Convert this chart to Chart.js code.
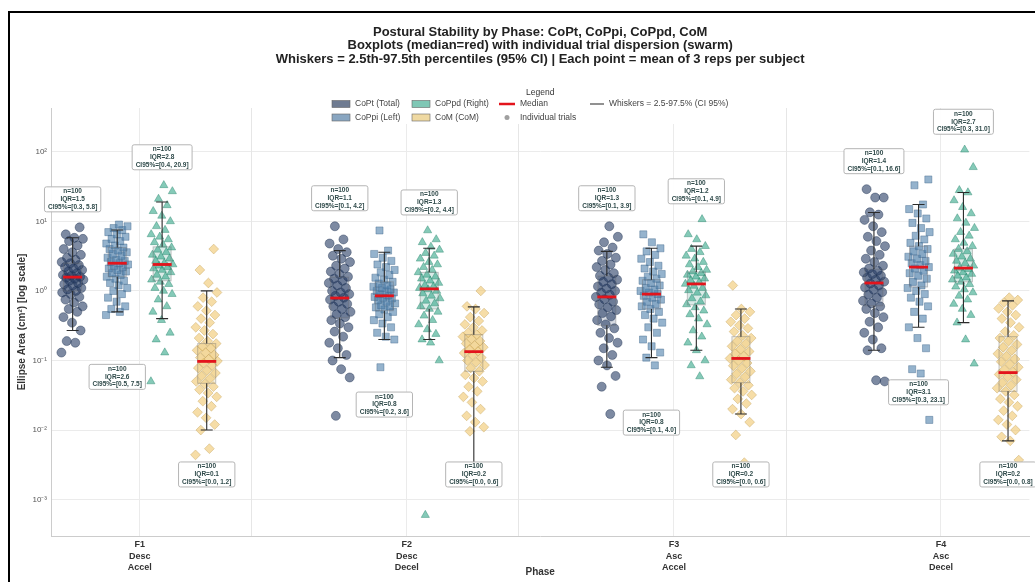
<!DOCTYPE html>
<html>
<head>
<meta charset="utf-8">
<title>Postural Stability by Phase</title>
<script src="https://cdn.jsdelivr.net/npm/chart.js@4.4.1/dist/chart.umd.min.js"></script>
<style>
  html, body { margin: 0; padding: 0; background: #fff; }
  #chart { display: block; }
</style>
</head>
<body>
<canvas id="chart" width="1035" height="582"></canvas>
<script>
// phases (x categories), one multi-line tick label each
const phases = [['F1', 'Desc', 'Accel'], ['F2', 'Desc', 'Decel'], ['F3', 'Asc', 'Accel'], ['F4', 'Asc', 'Decel']];
const seriesNames = ['CoPt (Total)', 'CoPpi (Left)', 'CoPpd (Right)', 'CoM (CoM)'];
const nTrials = 100;

const yTicks = [1e-3, 1e-2, 1e-1, 1, 10, 100];
const yTickLabels = ['10\u207B\u00B3', '10\u207B\u00B2', '10\u207B\u00B9', '10\u2070', '10\u00B9', '10\u00B2'];

// individual trial means (cm²), one list per phase F1..F4
const coptTrials = [
    [0.13, 0.18, 0.19, 0.27, 0.35, 0.42, 0.5, 0.55, 0.6, 0.68, 0.75, 0.82, 0.9, 0.95, 1.0, 1.05, 1.1, 1.2, 1.25, 1.3, 1.4, 1.45, 1.5, 1.55, 1.6, 1.65, 1.7, 1.8, 1.9, 2.0, 2.1, 2.2, 2.35, 2.5, 2.6, 2.8, 3.0, 3.3, 3.6, 4.0, 4.5, 5.2, 5.6, 5.8, 6.5, 8.2],
    [0.016, 0.057, 0.075, 0.1, 0.12, 0.15, 0.18, 0.22, 0.26, 0.3, 0.34, 0.38, 0.42, 0.46, 0.5, 0.55, 0.6, 0.65, 0.7, 0.75, 0.8, 0.85, 0.9, 0.95, 1.0, 1.1, 1.2, 1.3, 1.4, 1.5, 1.6, 1.75, 1.9, 2.1, 2.3, 2.6, 2.9, 3.2, 3.6, 4.0, 4.8, 5.5, 8.5],
    [0.017, 0.042, 0.06, 0.085, 0.1, 0.12, 0.15, 0.18, 0.21, 0.25, 0.29, 0.33, 0.38, 0.43, 0.48, 0.53, 0.58, 0.64, 0.7, 0.76, 0.82, 0.88, 0.94, 1.0, 1.08, 1.16, 1.25, 1.35, 1.45, 1.55, 1.65, 1.8, 2.0, 2.2, 2.4, 2.7, 3.0, 3.4, 3.8, 4.2, 5.0, 6.0, 8.5],
    [0.05, 0.052, 0.14, 0.15, 0.2, 0.25, 0.3, 0.36, 0.42, 0.48, 0.55, 0.6, 0.66, 0.72, 0.8, 0.88, 0.96, 1.04, 1.12, 1.2, 1.28, 1.36, 1.45, 1.55, 1.65, 1.75, 1.85, 1.95, 2.1, 2.3, 2.6, 2.9, 3.3, 3.8, 4.4, 5.2, 6.0, 7.0, 8.5, 10.5, 12.5, 13.5, 22, 22, 29]
];
const coppiTrials = [
    [0.45, 0.5, 0.55, 0.6, 0.7, 0.8, 0.9, 1.0, 1.1, 1.2, 1.3, 1.4, 1.5, 1.6, 1.7, 1.8, 1.9, 2.0, 2.1, 2.2, 2.3, 2.4, 2.5, 2.6, 2.7, 2.8, 3.0, 3.2, 3.4, 3.6, 3.8, 4.0, 4.2, 4.5, 4.8, 5.2, 5.6, 6.0, 6.5, 7.0, 7.5, 8.0, 8.5, 9.0],
    [0.08, 0.2, 0.22, 0.25, 0.3, 0.34, 0.38, 0.42, 0.46, 0.5, 0.54, 0.58, 0.6, 0.62, 0.66, 0.7, 0.74, 0.78, 0.8, 0.82, 0.86, 0.9, 0.95, 1.0, 1.0, 1.05, 1.1, 1.15, 1.2, 1.28, 1.35, 1.45, 1.55, 1.7, 1.85, 2.0, 2.2, 2.4, 2.7, 3.0, 3.4, 3.8, 7.4],
    [0.085, 0.11, 0.13, 0.16, 0.2, 0.25, 0.3, 0.35, 0.4, 0.45, 0.5, 0.55, 0.6, 0.65, 0.7, 0.75, 0.8, 0.85, 0.9, 0.95, 1.0, 1.05, 1.1, 1.2, 1.3, 1.4, 1.5, 1.6, 1.75, 1.9, 2.1, 2.3, 2.6, 2.9, 3.3, 3.7, 4.1, 5.0, 6.5],
    [0.014, 0.065, 0.075, 0.15, 0.21, 0.3, 0.4, 0.5, 0.6, 0.7, 0.8, 0.9, 1.0, 1.1, 1.2, 1.35, 1.5, 1.65, 1.8, 1.95, 2.1, 2.2, 2.35, 2.5, 2.7, 2.9, 3.1, 3.4, 3.7, 4.0, 4.4, 4.9, 5.5, 6.2, 7.0, 8.0, 9.5, 11, 13, 15, 17.5, 33, 40]
];
const coppdTrials = [
    [0.05, 0.13, 0.2, 0.25, 0.38, 0.5, 0.6, 0.75, 0.9, 1.0, 1.1, 1.25, 1.35, 1.45, 1.6, 1.7, 1.85, 2.0, 2.1, 2.2, 2.3, 2.4, 2.5, 2.7, 2.9, 3.1, 3.3, 3.6, 3.9, 4.2, 4.6, 5.0, 5.5, 6.0, 6.5, 7.5, 8.5, 10, 12, 14, 17, 21, 27, 33],
    [0.0006, 0.1, 0.18, 0.2, 0.24, 0.28, 0.33, 0.38, 0.44, 0.5, 0.55, 0.6, 0.66, 0.72, 0.78, 0.85, 0.92, 1.0, 1.05, 1.1, 1.15, 1.2, 1.3, 1.4, 1.5, 1.6, 1.7, 1.85, 2.0, 2.2, 2.4, 2.6, 2.9, 3.2, 3.5, 3.9, 4.3, 5.0, 5.5, 7.4],
    [0.059, 0.085, 0.1, 0.14, 0.18, 0.22, 0.27, 0.33, 0.4, 0.46, 0.52, 0.58, 0.64, 0.7, 0.78, 0.86, 0.94, 1.02, 1.1, 1.18, 1.26, 1.34, 1.42, 1.5, 1.6, 1.7, 1.8, 1.9, 2.0, 2.2, 2.4, 2.6, 2.9, 3.2, 3.6, 4.0, 4.4, 5.5, 6.5, 10.7],
    [0.09, 0.2, 0.35, 0.45, 0.55, 0.65, 0.75, 0.85, 0.95, 1.05, 1.15, 1.25, 1.35, 1.45, 1.55, 1.65, 1.75, 1.85, 1.95, 2.05, 2.15, 2.3, 2.5, 2.7, 2.9, 3.1, 3.4, 3.7, 4.0, 4.4, 4.9, 5.5, 6.2, 7.0, 8.0, 9.5, 11, 13, 16, 20, 26, 28, 60, 107]
];
const comTrials = [
    [0.0044, 0.0054, 0.01, 0.012, 0.015, 0.018, 0.022, 0.026, 0.03, 0.034, 0.038, 0.042, 0.046, 0.05, 0.055, 0.06, 0.066, 0.072, 0.078, 0.085, 0.092, 0.098, 0.105, 0.11, 0.12, 0.13, 0.14, 0.15, 0.16, 0.175, 0.19, 0.21, 0.24, 0.27, 0.3, 0.35, 0.4, 0.45, 0.52, 0.6, 0.7, 0.8, 0.95, 1.3, 2.0, 4.0],
    [0.0096, 0.011, 0.013, 0.016, 0.02, 0.025, 0.03, 0.036, 0.042, 0.05, 0.056, 0.062, 0.07, 0.078, 0.086, 0.094, 0.1, 0.11, 0.12, 0.128, 0.136, 0.145, 0.155, 0.165, 0.175, 0.19, 0.205, 0.22, 0.235, 0.25, 0.27, 0.3, 0.33, 0.37, 0.42, 0.48, 0.55, 0.6, 1.0],
    [0.0034, 0.0085, 0.013, 0.017, 0.02, 0.024, 0.028, 0.032, 0.036, 0.04, 0.044, 0.048, 0.053, 0.058, 0.064, 0.07, 0.077, 0.084, 0.092, 0.1, 0.107, 0.115, 0.125, 0.135, 0.145, 0.16, 0.175, 0.19, 0.21, 0.23, 0.26, 0.29, 0.32, 0.36, 0.4, 0.45, 0.5, 0.55, 1.2],
    [0.0037, 0.007, 0.008, 0.01, 0.012, 0.014, 0.016, 0.019, 0.022, 0.025, 0.028, 0.032, 0.036, 0.04, 0.044, 0.048, 0.053, 0.058, 0.063, 0.068, 0.074, 0.08, 0.088, 0.096, 0.105, 0.115, 0.125, 0.14, 0.155, 0.17, 0.19, 0.21, 0.23, 0.26, 0.3, 0.35, 0.4, 0.45, 0.5, 0.56, 0.62, 0.68, 0.74, 0.8]
];

// box stats per phase: [p2.5, q1, median, q3, p97.5]
const coptBox = [[0.27, 1.0, 1.58, 2.5, 5.8], [0.11, 0.41, 0.79, 1.58, 3.8], [0.08, 0.32, 0.82, 1.64, 3.7], [0.14, 0.61, 1.3, 2.06, 13.4]];
const coppiBox = [[0.5, 1.6, 2.5, 4.2, 7.5], [0.2, 0.52, 0.85, 1.35, 3.6], [0.11, 0.55, 0.9, 1.45, 4.1], [0.3, 1.14, 2.2, 4.4, 17.5]];
const coppdBox = [[0.4, 1.4, 2.4, 4.3, 19], [0.2, 0.55, 1.07, 1.85, 4.1], [0.14, 0.63, 1.26, 1.87, 4.4], [0.35, 1.35, 2.13, 4.0, 26]];
const comBox = [[0.01, 0.047, 0.097, 0.175, 1.0], [0.003, 0.07, 0.134, 0.235, 0.59], [0.017, 0.048, 0.107, 0.22, 0.55], [0.007, 0.036, 0.067, 0.22, 0.72]];

// annotation values
const coptIqr = [1.5, 1.1, 1.3, 1.4];
const coppiIqr = [2.6, 0.8, 0.8, 3.1];
const coppdIqr = [2.8, 1.3, 1.2, 2.7];
const comIqr = [0.1, 0.2, 0.2, 0.2];
const coptCi = ['[0.3, 5.8]', '[0.1, 4.2]', '[0.1, 3.9]', '[0.1, 16.6]'];
const coppiCi = ['[0.5, 7.5]', '[0.2, 3.6]', '[0.1, 4.0]', '[0.3, 23.1]'];
const coppdCi = ['[0.4, 20.9]', '[0.2, 4.4]', '[0.1, 4.9]', '[0.3, 31.0]'];
const comCi = ['[0.0, 1.2]', '[0.0, 0.6]', '[0.0, 0.6]', '[0.0, 0.8]'];

// styling / layout
const series = [
    { trials: coptTrials, box: coptBox, iqr: coptIqr, ci: coptCi, offset: -0.251, rgb: [38, 60, 100], boxFill: 'rgba(120,132,158,0.3)', swatch: '#6f7b91', shape: 'circle', radius: 4.5, above: true },
    { trials: coppiTrials, box: coppiBox, iqr: coppiIqr, ci: coppiCi, offset: -0.084, rgb: [78, 128, 172], boxFill: 'rgba(135,160,188,0.3)', swatch: '#89a6c1', shape: 'rect', radius: 5, above: false },
    { trials: coppdTrials, box: coppdBox, iqr: coppdIqr, ci: coppdCi, offset: 0.084, rgb: [52, 166, 136], boxFill: 'rgba(130,190,176,0.3)', swatch: '#7fc7b5', shape: 'triangle', radius: 4.7, above: true },
    { trials: comTrials, box: comBox, iqr: comIqr, ci: comCi, offset: 0.251, rgb: [240, 198, 108], boxFill: 'rgba(228,214,172,0.35)', swatch: '#efd9a2', shape: 'rectRot', radius: 4.9, above: false }
];
const separators = [0.418, 1.418, 2.418];
const fontFamily = '"Liberation Sans", Arial, sans-serif';

function jitter(i) {
    const g = (i * 0.6180339887) % 1;
    return (g - 0.5) * 0.084;
}

function rgba(c, a) {
    return 'rgba(' + c[0] + ',' + c[1] + ',' + c[2] + ',' + a + ')';
}

const datasets = series.map(function (s, k) {
    const pts = [];
    s.trials.forEach(function (list, p) {
        list.forEach(function (v, i) {
            pts.push({ x: p + s.offset + jitter(i + p * 7), y: v });
        });
    });
    return {
        label: seriesNames[k],
        data: pts,
        pointStyle: s.shape,
        pointRadius: s.radius,
        pointBackgroundColor: rgba(s.rgb, 0.6),
        pointBorderColor: rgba(s.rgb.map(c => Math.round(c * 0.8)), 0.7),
        pointBorderWidth: 0.6
    };
});

function roundBox(ctx, x, y, w, h, r) {
    ctx.beginPath();
    ctx.moveTo(x + r, y);
    ctx.lineTo(x + w - r, y);
    ctx.quadraticCurveTo(x + w, y, x + w, y + r);
    ctx.lineTo(x + w, y + h - r);
    ctx.quadraticCurveTo(x + w, y + h, x + w - r, y + h);
    ctx.lineTo(x + r, y + h);
    ctx.quadraticCurveTo(x, y + h, x, y + h - r);
    ctx.lineTo(x, y + r);
    ctx.quadraticCurveTo(x, y, x + r, y);
    ctx.closePath();
}

const boxPlugin = {
    id: 'boxes',
    beforeDatasetsDraw(chart) {
        const { ctx, chartArea, scales: { x, y } } = chart;
        ctx.save();
        ctx.strokeStyle = '#e6e6e6';
        ctx.lineWidth = 1;
        separators.forEach(function (v) {
            const px = Math.round(x.getPixelForValue(v)) + 0.5;
            ctx.beginPath();
            ctx.moveTo(px, chartArea.top);
            ctx.lineTo(px, chartArea.bottom);
            ctx.stroke();
        });
        series.forEach(function (s) {
            s.box.forEach(function (b, p) {
                const cx = x.getPixelForValue(p + s.offset);
                const top = y.getPixelForValue(b[3]);
                const bot = y.getPixelForValue(b[1]);
                ctx.fillStyle = s.boxFill;
                ctx.fillRect(cx - 9, top, 18, bot - top);
            });
        });
        ctx.restore();
    },
    afterDatasetsDraw(chart) {
        const { ctx, scales: { x, y } } = chart;
        ctx.save();
        series.forEach(function (s) {
            s.box.forEach(function (b, p) {
                const cx = x.getPixelForValue(p + s.offset);
                const yLo = y.getPixelForValue(b[0]);
                const yQ1 = y.getPixelForValue(b[1]);
                const yMed = y.getPixelForValue(b[2]);
                const yQ3 = y.getPixelForValue(b[3]);
                const yHi = y.getPixelForValue(b[4]);
                // box outline
                ctx.strokeStyle = 'rgba(110,110,110,0.4)';
                ctx.lineWidth = 1;
                ctx.strokeRect(cx - 9, yQ3, 18, yQ1 - yQ3);
                // whiskers + caps
                ctx.strokeStyle = '#2b2b2b';
                ctx.lineWidth = 1.1;
                ctx.beginPath();
                ctx.moveTo(cx, yQ3); ctx.lineTo(cx, yHi);
                ctx.moveTo(cx, yQ1); ctx.lineTo(cx, yLo);
                ctx.moveTo(cx - 6, yHi); ctx.lineTo(cx + 6, yHi);
                ctx.moveTo(cx - 6, yLo); ctx.lineTo(cx + 6, yLo);
                ctx.stroke();
                // median
                ctx.strokeStyle = '#e3141c';
                ctx.lineWidth = 2.8;
                ctx.beginPath();
                ctx.moveTo(cx - 9.5, yMed); ctx.lineTo(cx + 9.5, yMed);
                ctx.stroke();
            });
        });
        // annotation boxes
        ctx.font = 'bold 6.5px ' + fontFamily;
        ctx.textAlign = 'center';
        ctx.textBaseline = 'middle';
        series.forEach(function (s) {
            s.box.forEach(function (b, p) {
                const cx = x.getPixelForValue(p + s.offset);
                let cy;
                if (s.above) {
                    cy = y.getPixelForValue(Math.max.apply(null, s.trials[p])) - 28;
                } else {
                    cy = Math.min(y.getPixelForValue(b[0]) + 65, y.getPixelForValue(0.0023));
                }
                const lines = ['n=' + nTrials, 'IQR=' + s.iqr[p].toFixed(1), 'CI95%=' + s.ci[p]];
                const w = Math.max.apply(null, lines.map(t => ctx.measureText(t).width)) + 7;
                const h = 25;
                ctx.fillStyle = 'rgba(255,255,255,0.92)';
                ctx.strokeStyle = '#b5b5b5';
                ctx.lineWidth = 1;
                roundBox(ctx, cx - w / 2, cy - h / 2, w, h, 2);
                ctx.fill();
                ctx.stroke();
                ctx.fillStyle = '#2f4a4a';
                lines.forEach(function (t, i) {
                    ctx.fillText(t, cx, cy + (i - 1) * 7.8);
                });
            });
        });
        ctx.restore();
    },
    afterDraw(chart) {
        const { ctx, chartArea } = chart;
        const mid = (chartArea.left + chartArea.right) / 2;
        ctx.save();
        // title
        ctx.fillStyle = '#222';
        ctx.textAlign = 'center';
        ctx.textBaseline = 'middle';
        ctx.font = 'bold 13px ' + fontFamily;
        ctx.fillText('Postural Stability by Phase: CoPt, CoPpi, CoPpd, CoM', mid, 32);
        ctx.fillText('Boxplots (median=red) with individual trial dispersion (swarm)', mid, 45.5);
        ctx.fillText('Whiskers = 2.5th-97.5th percentiles (95% CI) | Each point = mean of 3 reps per subject', mid, 59);

        // legend
        ctx.fillStyle = '#fff';
        ctx.fillRect(326, 86, 430, 38);
        ctx.font = '8.5px ' + fontFamily;
        ctx.fillStyle = '#333';
        ctx.fillText('Legend', mid, 93);
        ctx.textAlign = 'left';
        const rows = [104, 117.5];
        const cols = [332, 412];
        series.forEach(function (s, k) {
            const lx = cols[k < 2 ? 0 : 1];
            const ly = rows[k % 2];
            ctx.fillStyle = s.swatch;
            ctx.fillRect(lx, ly - 3.5, 18, 7);
            ctx.strokeStyle = '#666';
            ctx.lineWidth = 0.6;
            ctx.strokeRect(lx, ly - 3.5, 18, 7);
            ctx.fillStyle = '#444';
            ctx.fillText(seriesNames[k], lx + 23, ly);
        });
        ctx.strokeStyle = '#e3141c';
        ctx.lineWidth = 2.5;
        ctx.beginPath(); ctx.moveTo(499, rows[0]); ctx.lineTo(515, rows[0]); ctx.stroke();
        ctx.fillStyle = '#444';
        ctx.fillText('Median', 520, rows[0]);
        ctx.fillStyle = '#a0a0a0';
        ctx.beginPath(); ctx.arc(507, rows[1], 2.5, 0, Math.PI * 2); ctx.fill();
        ctx.fillStyle = '#444';
        ctx.fillText('Individual trials', 520, rows[1]);
        ctx.strokeStyle = '#555';
        ctx.lineWidth = 1.3;
        ctx.beginPath(); ctx.moveTo(590, rows[0]); ctx.lineTo(604, rows[0]); ctx.stroke();
        ctx.fillText('Whiskers = 2.5-97.5% (CI 95%)', 609, rows[0]);

        // axis titles
        ctx.fillStyle = '#333';
        ctx.textAlign = 'center';
        ctx.font = 'bold 10px ' + fontFamily;
        ctx.fillText('Phase', mid, 572);
        ctx.translate(22, (chartArea.top + chartArea.bottom) / 2);
        ctx.rotate(-Math.PI / 2);
        ctx.fillText('Ellipse Area (cm\u00B2) [log scale]', 0, 0);
        ctx.restore();

        // figure frame
        ctx.save();
        ctx.strokeStyle = '#000';
        ctx.lineWidth = 2;
        ctx.beginPath();
        ctx.moveTo(9, 582); ctx.lineTo(9, 12); ctx.lineTo(1035, 12);
        ctx.stroke();
        ctx.restore();
    }
};

Chart.defaults.font.family = fontFamily;

new Chart(document.getElementById('chart').getContext('2d'), {
    type: 'scatter',
    data: { datasets: datasets },
    plugins: [boxPlugin],
    options: {
        responsive: false,
        animation: false,
        layout: { padding: { top: 108, right: 3, left: 0, bottom: 0 } },
        plugins: {
            legend: { display: false },
            tooltip: { enabled: false },
            title: { display: false }
        },
        scales: {
            x: {
                type: 'linear',
                min: -0.332,
                max: 3.331,
                afterBuildTicks: function (s) { s.ticks = phases.map((_, i) => ({ value: i })); },
                afterFit: function (s) { s.height = 46; },
                ticks: {
                    callback: function (v) { return phases[v]; },
                    font: { size: 9, weight: 'bold', lineHeight: 1.27 },
                    color: '#333',
                    padding: 3,
                    maxRotation: 0,
                    autoSkip: false
                },
                grid: { color: '#ebebeb', drawTicks: false },
                border: { color: '#cccccc' }
            },
            y: {
                type: 'logarithmic',
                min: 3.4e-4,
                max: 426,
                afterBuildTicks: function (s) { s.ticks = yTicks.map(v => ({ value: v })); },
                afterFit: function (s) { s.width = 51; },
                ticks: {
                    callback: function (v, i) { return yTickLabels[i]; },
                    font: { size: 8 },
                    color: '#555',
                    padding: 4
                },
                grid: { color: '#ebebeb', drawTicks: false },
                border: { color: '#cccccc' }
            }
        }
    }
});
</script>
</body>
</html>
